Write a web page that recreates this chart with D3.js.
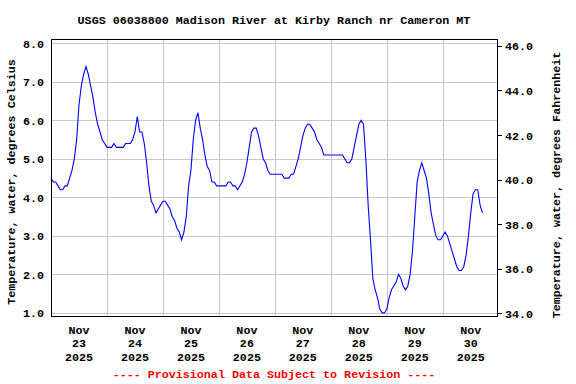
<!DOCTYPE html>
<html>
<head>
<meta charset="utf-8">
<script src="https://cdn.jsdelivr.net/npm/d3@7"></script>
<style>
  body { margin: 0; background: #fff; }
  text { font-family: "Liberation Mono", "DejaVu Sans Mono", monospace; font-weight: bold; font-size: 11.7px; fill: #000; }
</style>
</head>
<body>
<script>
    const chart_width = 576;
    const chart_height = 384;

    const chart_title = "USGS 06038800 Madison River at Kirby Ranch nr Cameron MT";
    const left_axis_title = "Temperature, water, degrees Celsius";
    const right_axis_title = "Temperature, water, degrees Fahrenheit";
    const footer_note = "---- Provisional Data Subject to Revision ----";

    // hourly readings, starting Nov 23 2025 00:00
    const series_start = new Date(2025, 10, 23, 0, 0);
    const temp_celsius = [
      // Nov 23
      4.5, 4.4, 4.4, 4.3, 4.2, 4.2, 4.3, 4.3, 4.5, 4.7, 5.0, 5.5,
      6.4, 6.9, 7.2, 7.4, 7.2, 6.9, 6.6, 6.2, 5.9, 5.7, 5.5, 5.4,
      // Nov 24
      5.3, 5.3, 5.3, 5.4, 5.3, 5.3, 5.3, 5.3, 5.4, 5.4, 5.4, 5.5,
      5.7, 6.1, 5.7, 5.7, 5.4, 4.9, 4.3, 3.9, 3.8, 3.6, 3.7, 3.8,
      // Nov 25
      3.9, 3.9, 3.8, 3.7, 3.5, 3.4, 3.2, 3.1, 2.9, 3.1, 3.5, 4.3,
      4.7, 5.5, 6.0, 6.2, 5.8, 5.5, 5.1, 4.8, 4.7, 4.4, 4.4, 4.3,
      // Nov 26
      4.3, 4.3, 4.3, 4.3, 4.4, 4.4, 4.3, 4.3, 4.2, 4.3, 4.4, 4.6,
      4.9, 5.3, 5.7, 5.8, 5.8, 5.6, 5.3, 5.0, 4.9, 4.7, 4.6, 4.6,
      // Nov 27
      4.6, 4.6, 4.6, 4.6, 4.5, 4.5, 4.5, 4.6, 4.6, 4.8, 5.0, 5.3,
      5.6, 5.8, 5.9, 5.9, 5.8, 5.7, 5.5, 5.4, 5.3, 5.1, 5.1, 5.1,
      // Nov 28
      5.1, 5.1, 5.1, 5.1, 5.1, 5.1, 5.0, 4.9, 4.9, 5.0, 5.3, 5.6,
      5.9, 6.0, 5.9, 5.0, 3.8, 2.9, 1.9, 1.6, 1.4, 1.1, 1.0, 1.0,
      // Nov 29
      1.1, 1.4, 1.6, 1.7, 1.8, 2.0, 1.9, 1.7, 1.6, 1.7, 2.0, 2.6,
      3.5, 4.4, 4.7, 4.9, 4.7, 4.5, 4.1, 3.6, 3.3, 3.0, 2.9, 2.9,
      // Nov 30
      3.0, 3.1, 3.0, 2.8, 2.6, 2.4, 2.2, 2.1, 2.1, 2.2, 2.5, 3.0,
      3.6, 4.1, 4.2, 4.2, 3.8, 3.6
    ];

    const celsius_ticks = [1, 2, 3, 4, 5, 6, 7, 8];
    const fahrenheit_ticks = [34, 36, 38, 40, 42, 44, 46];
    const day_labels = [23, 24, 25, 26, 27, 28, 29, 30];
    const month_label = "Nov";
    const year_label = "2025";

    const plot_left = 51, plot_right = 497, plot_top = 39, plot_bottom = 316;

    const svg = d3.select('body').append('svg')
        .attr('width', chart_width).attr('height', chart_height);

    const x = d3.scaleTime()
        .domain([series_start, new Date(2025, 10, 30, 23, 15)])
        .range([plot_left, plot_right]);
    const y = d3.scaleLinear().domain([0.92, 8.115]).range([plot_bottom, plot_top]);
    const y_f = d3.scaleLinear().domain([33.88, 46.31]).range([plot_bottom, plot_top]);

    const points = temp_celsius.map((v, i) => ({t: d3.timeHour.offset(series_start, i), v: v}));

    // grid
    const grid = svg.append('g').attr('shape-rendering', 'crispEdges')
        .attr('stroke', '#c8c8c8').attr('stroke-width', 1);
    grid.selectAll('line.h')
        .data(celsius_ticks)
        .enter().append('line')
          .attr('x1', plot_left).attr('x2', plot_right)
          .attr('y1', d => Math.round(y(d)) + 0.5).attr('y2', d => Math.round(y(d)) + 0.5);
    const midnights = d3.timeDay.range(d3.timeDay.offset(series_start, 1), x.domain()[1]);
    grid.selectAll('line.v')
        .data(midnights)
        .enter().append('line')
          .attr('y1', plot_top).attr('y2', plot_bottom)
          .attr('x1', d => Math.round(x(d)) + 0.5).attr('x2', d => Math.round(x(d)) + 0.5);

    // data line
    svg.append('path')
        .datum(points)
        .attr('fill', 'none')
        .attr('stroke', '#0000ff')
        .attr('stroke-width', 1.1)
        .attr('d', d3.line().x(d => x(d.t)).y(d => y(d.v)));

    // frame
    svg.append('rect')
        .attr('x', plot_left + 0.5).attr('y', plot_top + 0.5)
        .attr('width', plot_right - plot_left).attr('height', plot_bottom - plot_top)
        .attr('fill', 'none').attr('stroke', '#000').attr('shape-rendering', 'crispEdges');

    // left axis labels
    svg.append('g').selectAll('text')
        .data(celsius_ticks)
        .enter().append('text')
          .attr('x', 44).attr('y', d => y(d) + 4.5)
          .attr('text-anchor', 'end')
          .text(d => d3.format('.1f')(d));

    // right axis ticks + labels
    const right = svg.append('g');
    right.selectAll('line')
        .data(fahrenheit_ticks)
        .enter().append('line')
          .attr('x1', plot_right).attr('x2', plot_right + 5)
          .attr('y1', d => Math.round(y_f(d)) + 0.5).attr('y2', d => Math.round(y_f(d)) + 0.5)
          .attr('stroke', '#000').attr('shape-rendering', 'crispEdges');
    right.selectAll('text')
        .data(fahrenheit_ticks)
        .enter().append('text')
          .attr('x', 505).attr('y', d => y_f(d) + 4.5)
          .text(d => d3.format('.1f')(d));

    // x labels at noon of each day
    const xl = svg.append('g').selectAll('text')
        .data(day_labels)
        .enter().append('text')
          .attr('text-anchor', 'middle')
          .attr('transform', (d, i) => 'translate(' + x(d3.timeHour.offset(series_start, i * 24 + 12)) + ',0)');
    xl.append('tspan').attr('x', 0).attr('y', 333.5).text(month_label);
    xl.append('tspan').attr('x', 0).attr('y', 347).text(d => d);
    xl.append('tspan').attr('x', 0).attr('y', 360.5).text(year_label);

    // titles
    svg.append('text')
        .attr('x', 274).attr('y', 24)
        .attr('text-anchor', 'middle')
        .text(chart_title);
    svg.append('text')
        .attr('transform', 'translate(15,182) rotate(-90)')
        .attr('text-anchor', 'middle')
        .text(left_axis_title);
    svg.append('text')
        .attr('transform', 'translate(560,185) rotate(-90)')
        .attr('text-anchor', 'middle')
        .text(right_axis_title);
    svg.append('text')
        .attr('x', 274).attr('y', 378)
        .attr('text-anchor', 'middle')
        .style('fill', '#ff0000')
        .text(footer_note);
</script>
</body>
</html>
